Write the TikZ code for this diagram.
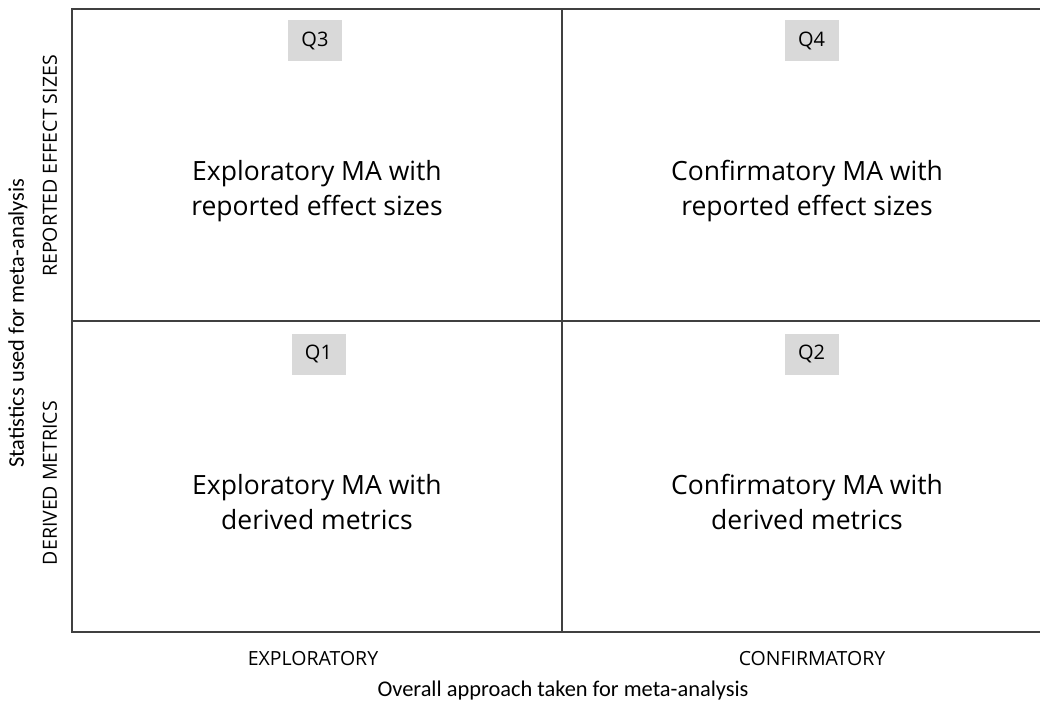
\documentclass[tikz,border=0pt]{standalone}
\usepackage{fontspec}
\setmainfont{Open Sans}
\newfontfamily\titlefont{Carlito}
\begin{document}
\begin{tikzpicture}[x=1pt,y=-1pt,
  grid/.style={draw=black!75,line width=2pt},
  qbox/.style={fill=black!15,minimum width=54pt,minimum height=41pt,inner sep=0pt,font=\fontsize{20}{22}\selectfont},
  maintext/.style={align=center,font=\fontsize{26.5}{35}\selectfont},
  axis/.style={font=\fontsize{19.5}{22}\selectfont},
  title/.style={font=\titlefont\fontsize{22.4}{24}\selectfont}]
\useasboundingbox (0,0) rectangle (1040,704);
\coordinate (tl) at (72,9);
\coordinate (bl) at (72,632);
\coordinate (tr) at (1042,9);
\coordinate (br) at (1042,632);
\coordinate (mt) at (562,9);
\coordinate (mb) at (562,632);
\coordinate (ml) at (72,321);
\coordinate (mr) at (1042,321);
\draw[grid] (tr) -- (tl) -- (bl) -- (br);
\draw[grid] (mt) -- (mb);
\draw[grid] (ml) -- (mr);
\node[qbox] (q3) at (315,40.5) {Q3};
\node[qbox] (q4) at (811.5,40.5) {Q4};
\node[qbox] (q1) at (318.5,354) {Q1};
\node[qbox] (q2) at (811.5,354) {Q2};
\node[maintext] (t3) at (317,191) {Exploratory MA with\\reported effect sizes};
\node[maintext] (t4) at (807,191) {Confirmatory MA with\\reported effect sizes};
\node[maintext] (t1) at (317,502) {Exploratory MA with\\derived metrics};
\node[maintext] (t2) at (807,502) {Confirmatory MA with\\derived metrics};
\node[axis] (xe) at (313,659) {EXPLORATORY};
\node[axis] (xc) at (812,659) {CONFIRMATORY};
\node[title] (xt) at (563,691) {Overall approach taken for meta-analysis};
\node[axis,rotate=90] (yr) at (50,166) {REPORTED EFFECT SIZES};
\node[axis,rotate=90] (yd) at (50,483) {DERIVED METRICS};
\node[title,rotate=90] (yt) at (18,323) {Statistics used for meta-analysis};
\end{tikzpicture}
\end{document}
